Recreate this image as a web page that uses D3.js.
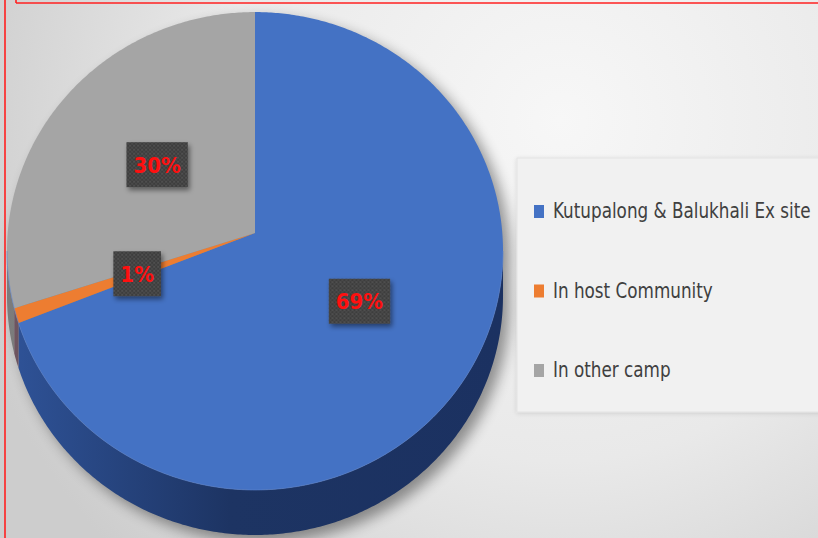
<!DOCTYPE html>
<html><head><meta charset="utf-8">
<script src="https://cdn.jsdelivr.net/npm/d3@7"></script>
<style>html,body{margin:0;padding:0;background:#e6e6e6;}svg{display:block;}</style>
</head><body>
<div id="chart"></div>
<script>
const categories = ["Kutupalong & Balukhali Ex site", "In host Community", "In other camp"];
const values = [69, 1, 30];
const valueLabels = ["69%", "1%", "30%"];
const colors = ["#4472C4", "#ED7D31", "#A5A5A5"];
const wallColors = [["#2f5398", "#1d3463", "#1b3161"], ["#6e5560", "#5a4a58", "#5a4a58"], ["#7c7c7c", "#6a6a6a", "#6a6a6a"]];

const W = 818, H = 538;
const cx = 255, cy = 233, A = 247.3, B = 237.6, persp = 0.0754, depth = 45;

const svg = d3.select("#chart").append("svg").attr("width", W).attr("height", H);
const defs = svg.append("defs");

// background
const bg = defs.append("radialGradient").attr("id", "bg").attr("gradientUnits", "userSpaceOnUse")
  .attr("cx", 560).attr("cy", 120).attr("r", 620);
bg.append("stop").attr("offset", "0").attr("stop-color", "#f7f7f7");
bg.append("stop").attr("offset", "0.55").attr("stop-color", "#e9e9e9");
bg.append("stop").attr("offset", "1").attr("stop-color", "#cdcdcd");
svg.append("rect").attr("width", W).attr("height", H).attr("fill", "url(#bg)");

// filters
const blur = defs.append("filter").attr("id", "shadow").attr("x", "-20%").attr("y", "-20%").attr("width", "140%").attr("height", "140%");
blur.append("feGaussianBlur").attr("stdDeviation", 7);
const lblShadow = defs.append("filter").attr("id", "lblshadow").attr("x", "-40%").attr("y", "-40%").attr("width", "180%").attr("height", "180%");
lblShadow.append("feDropShadow").attr("dx", 2).attr("dy", 3).attr("stdDeviation", 2.5).attr("flood-color", "#000").attr("flood-opacity", 0.45);
const legShadow = defs.append("filter").attr("id", "legshadow").attr("x", "-10%").attr("y", "-10%").attr("width", "120%").attr("height", "120%");
legShadow.append("feDropShadow").attr("dx", 0).attr("dy", 1).attr("stdDeviation", 2).attr("flood-color", "#000").attr("flood-opacity", 0.12);

// dotted pattern for label boxes
const pat = defs.append("pattern").attr("id", "dots").attr("patternUnits", "userSpaceOnUse").attr("width", 4).attr("height", 4);
pat.append("rect").attr("width", 4).attr("height", 4).attr("fill", "#3d3d3d");
pat.append("circle").attr("cx", 1).attr("cy", 1).attr("r", 0.9).attr("fill", "#575757");
pat.append("circle").attr("cx", 3).attr("cy", 3).attr("r", 0.9).attr("fill", "#505050");

// wall gradients
wallColors.forEach((c, i) => {
  const g = defs.append("linearGradient").attr("id", "wall" + i).attr("gradientUnits", "userSpaceOnUse")
    .attr("x1", cx - A).attr("y1", 0).attr("x2", cx + A).attr("y2", 0);
  g.append("stop").attr("offset", "0").attr("stop-color", c[0]);
  g.append("stop").attr("offset", "0.45").attr("stop-color", c[1]);
  g.append("stop").attr("offset", "1").attr("stop-color", c[2]);
});

// projection of a point on the disk (angle clockwise from 12 o'clock, radius fraction)
function proj(a, r, dz) {
  const u = Math.sin(a) * r, v = -Math.cos(a) * r;
  const w = 1 - persp * v;
  return [cx + A * u / w, cy + B * v / w + (dz || 0)];
}
function arcPts(a0, a1, r, dz) {
  const n = Math.max(2, Math.ceil(Math.abs(a1 - a0) / 0.01));
  return d3.range(n + 1).map(k => proj(a0 + (a1 - a0) * k / n, r, dz));
}
const line = d3.line();

const pie = d3.pie().sort(null).value(d => d).startAngle(0).endAngle(2 * Math.PI);
const arcs = pie(values);

// shadow
const lo = Math.acos(-persp), hi = 2 * Math.PI - lo;
const sh = svg.append("g").attr("filter", "url(#shadow)").attr("transform", "translate(7,7)").attr("opacity", 0.4);
sh.append("path").attr("d", line(arcPts(0, 2 * Math.PI, 1, 0)) + "Z").attr("fill", "#000");
sh.append("path").attr("d", line(arcPts(lo, hi, 1, 0).concat(arcPts(hi, lo, 1, depth))) + "Z").attr("fill", "#000");

// walls
svg.append("g").selectAll("path").data(arcs).join("path")
  .attr("d", d => {
    const s = Math.max(d.startAngle, lo), e = Math.min(d.endAngle, hi);
    if (s >= e) return null;
    return line(arcPts(s, e, 1, 0).concat(arcPts(e, s, 1, depth))) + "Z";
  })
  .attr("fill", (d, i) => "url(#wall" + i + ")");

// top faces
svg.append("g").selectAll("path").data(arcs).join("path")
  .attr("d", d => line([proj(0, 0)].concat(arcPts(d.startAngle, d.endAngle, 1, 0))) + "Z")
  .attr("fill", (d, i) => colors[i]);

// faint rim highlight along front edge
svg.append("path").attr("d", line(arcPts(lo, hi, 1, 0)))
  .attr("fill", "none").attr("stroke", "#5b84cf").attr("stroke-width", 1).attr("opacity", 0.6);

// data labels
const lg = svg.append("g").selectAll("g").data(arcs).join("g")
  .attr("transform", d => { const p = proj((d.startAngle + d.endAngle) / 2, 0.5, 0); return `translate(${p[0]},${p[1]})`; });
lg.each(function (d, i) {
  const g = d3.select(this);
  const rect = g.append("rect").attr("fill", "url(#dots)").attr("filter", "url(#lblshadow)");
  const t = g.append("text").text(valueLabels[i]).attr("text-anchor", "middle").attr("dy", "0.36em")
    .attr("font-family", "'Liberation Sans Narrow', 'DejaVu Sans Condensed', Lato, sans-serif").attr("font-size", 22).attr("font-weight", 700)
    .attr("fill", "#ff1010");
  const w = t.node().getComputedTextLength() + 14, h = 45;
  rect.attr("x", -w / 2).attr("y", -h / 2).attr("width", w).attr("height", h);
});

// legend
svg.append("rect").attr("x", 517).attr("y", 158).attr("width", 320).attr("height", 254)
  .attr("fill", "#f1f1f1").attr("stroke", "#e3e3e3").attr("filter", "url(#legshadow)");
const legY = d3.scalePoint().domain(categories).range([218, 377]);
const legend = svg.append("g").selectAll("g").data(categories).join("g")
  .attr("transform", d => `translate(534,${legY(d)})`);
legend.append("rect").attr("x", 0).attr("y", -13).attr("width", 10).attr("height", 13)
  .attr("fill", (d, i) => colors[i]);
const legText = legend.append("text").text(d => d)
  .attr("font-family", "'Liberation Sans Narrow', 'DejaVu Sans Condensed', Lato, sans-serif").attr("font-size", 21.5)
  .attr("fill", "#404040");
// fit horizontally so the longest entry spans the same width as in the reference (narrow face)
const w0 = legText.nodes()[0].getComputedTextLength();
const sx = Math.min(1, 258 / w0);
legText.attr("transform", `translate(19,0) scale(${sx},1)`);

// red frame
svg.append("line").attr("x1", 5).attr("y1", 0).attr("x2", 5).attr("y2", H).attr("stroke", "#ff2020").attr("stroke-width", 1.6);
svg.append("line").attr("x1", 16).attr("y1", 3).attr("x2", W).attr("y2", 3).attr("stroke", "#ff2020").attr("stroke-width", 1.6);
svg.append("line").attr("x1", 16).attr("y1", 0).attr("x2", 16).attr("y2", 3).attr("stroke", "#ff2020").attr("stroke-width", 1.6);
</script>
</body></html>
